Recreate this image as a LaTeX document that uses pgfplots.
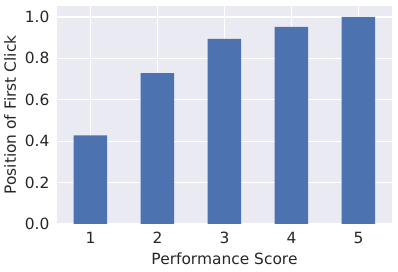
\documentclass[border=0pt]{standalone}
\usepackage{pgfplots}
\pgfplotsset{compat=1.18}
\usepackage{fontspec}
\setmainfont{DejaVu Sans}
\definecolor{bgc}{HTML}{EAEAF2}
\definecolor{barc}{HTML}{4C72B0}
\definecolor{txt}{HTML}{262626}
\begin{document}
\begin{tikzpicture}[x=1bp,y=1bp]
\useasboundingbox (0,0) rectangle (398,272);
\begin{axis}[
  at={(57bp,48bp)}, anchor=south west,
  scale only axis, width=335bp, height=218bp,
  xmin=-0.5, xmax=4.5, ymin=0, ymax=1.053,
  axis background/.style={fill=bgc},
  axis line style={draw=none},
  grid=major, major grid style={white, line width=1.1bp},
  axis on top=false,
  xtick={0,1,2,3,4}, xticklabels={1,2,3,4,5},
  ytick={0,0.2,0.4,0.6,0.8,1.0},
  yticklabel style={xshift=-4bp, /pgf/number format/.cd, fixed, fixed zerofill, precision=1},
  /pgf/number format/assume math mode=true,
  tick style={draw=none},
  ticklabel style={font=\fontsize{15.5}{18}\selectfont, text=txt},
  xticklabel style={yshift=-5bp},
  xlabel={Performance Score}, ylabel={Position of First Click},
  label style={font=\fontsize{15.5}{18}\selectfont, text=txt},
  xlabel style={yshift=-2bp},
  ylabel style={yshift=2bp},
  ]
  \addplot[ybar, bar width=0.5, fill=barc, draw=none] coordinates {
    (0,0.428) (1,0.729) (2,0.894) (3,0.952) (4,1.0)
  };
\end{axis}
\end{tikzpicture}
\end{document}
